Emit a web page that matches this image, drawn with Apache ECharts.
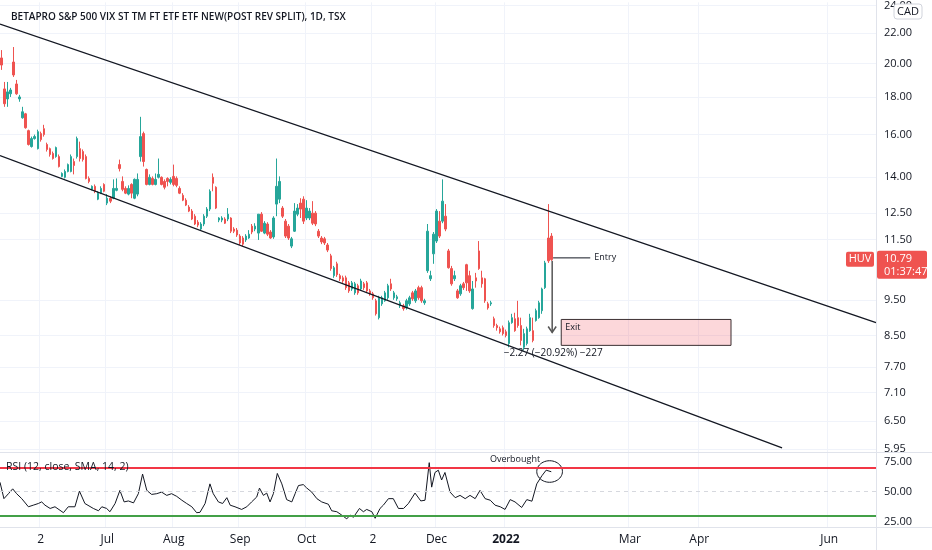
<!DOCTYPE html>
<html>
<head>
<meta charset="utf-8">
<title>HUV</title>
<script src="https://cdn.jsdelivr.net/npm/echarts@6.0.0/dist/echarts.min.js"></script>
<style>
  html, body { margin: 0; padding: 0; background: #fff; }
  #main { width: 932px; height: 550px; }
</style>
</head>
<body>
<div id="main"></div>
<script>
// 交易日从这一天开始，一共 dayCount 个（只算工作日）
const firstDay = '2021-05-13';
const dayCount = 290;

// 时间轴标签
const tickLabels = {
    '2021-06-01': '2', '2021-07-01': 'Jul', '2021-08-02': 'Aug', '2021-09-01': 'Sep',
    '2021-10-01': 'Oct', '2021-11-02': '2', '2021-12-01': 'Dec', '2022-01-03': '2022',
    '2022-03-01': 'Mar', '2022-04-01': 'Apr', '2022-06-01': 'Jun'
};

// 价格轴刻度
const priceTicks = [24, 22, 20, 18, 16, 14, 12.5, 11.5, 9.5, 8.5, 7.7, 7.1, 6.5, 5.95];
const rsiTicks = [25, 50, 75];
const rsiLevels = [70, 50, 30];

// K线 [open, close, low, high]
const candles = [
    [20.35, 19.90, 19.60, 20.86], [18.46, 17.62, 17.45, 18.87], [17.89, 18.29, 17.45, 18.87], [18.18, 18.40, 18.00, 18.52],
    [20.09, 19.29, 19.17, 21.06], [18.75, 18.18, 18.12, 18.99], [17.89, 18.00, 17.73, 18.12], [16.86, 17.18, 16.81, 17.45],
    [17.07, 16.34, 16.29, 17.12], [16.19, 15.50, 15.45, 16.24], [15.40, 15.79, 15.35, 15.89], [15.79, 15.89, 15.74, 15.99],
    [15.30, 16.14, 15.26, 16.24], [16.04, 15.74, 15.64, 16.14], [16.29, 15.99, 15.89, 16.49], [15.50, 15.26, 15.16, 15.59],
    [15.30, 15.02, 14.92, 15.35], [15.07, 14.83, 14.78, 15.16], [14.92, 15.35, 14.87, 15.40], [14.92, 14.46, 14.42, 15.02],
    [14.02, 14.15, 13.98, 14.20], [13.98, 14.24, 13.93, 14.33], [14.24, 14.55, 14.20, 14.60], [14.24, 14.92, 14.20, 15.02],
    [14.69, 14.51, 14.11, 14.83], [14.92, 15.79, 14.83, 15.89], [15.30, 14.83, 14.69, 15.64], [15.16, 14.78, 14.69, 15.26],
    [14.92, 13.93, 13.89, 15.02], [13.93, 13.80, 13.72, 14.02], [13.46, 13.59, 13.42, 13.63], [13.59, 13.38, 13.30, 13.67],
    [13.05, 13.30, 13.01, 13.38], [13.30, 13.50, 13.26, 13.59], [13.67, 13.38, 13.34, 13.72], [12.89, 13.09, 12.81, 13.26],
    [13.09, 12.97, 12.89, 13.17], [13.09, 13.50, 13.05, 13.89], [13.42, 13.50, 13.38, 13.93], [14.55, 14.37, 14.24, 14.78],
    [13.80, 13.46, 13.38, 14.02], [13.50, 13.30, 13.26, 13.59], [13.26, 13.50, 13.21, 13.63], [13.67, 13.30, 13.09, 13.72],
    [13.09, 13.89, 13.05, 13.93], [13.26, 13.89, 13.17, 14.15], [14.92, 15.89, 14.69, 16.91], [16.04, 14.69, 14.46, 16.14],
    [14.33, 13.67, 13.63, 14.37], [13.67, 13.98, 13.63, 14.11], [13.93, 13.67, 13.63, 14.02], [13.67, 13.89, 13.63, 14.15],
    [13.98, 14.11, 13.93, 14.83], [13.98, 13.67, 13.63, 14.02], [13.80, 13.55, 13.46, 13.89], [13.93, 13.80, 13.59, 13.98],
    [13.76, 13.89, 13.67, 13.98], [14.02, 13.67, 13.59, 14.55], [13.93, 13.63, 13.55, 14.02], [13.50, 13.30, 13.26, 13.59],
    [13.21, 13.01, 12.97, 13.30], [13.01, 12.81, 12.77, 13.09], [12.73, 12.57, 12.53, 12.81], [12.57, 12.26, 12.22, 12.65],
    [12.37, 12.07, 12.03, 12.45], [12.14, 12.03, 11.95, 12.22], [11.88, 12.07, 11.84, 12.14], [12.07, 12.37, 11.99, 12.45],
    [12.37, 12.65, 12.30, 12.73], [12.65, 13.38, 12.57, 13.46], [13.98, 13.72, 13.38, 14.15], [13.55, 12.69, 12.65, 13.59],
    [12.22, 12.30, 12.14, 12.33], [12.22, 12.30, 12.14, 12.37], [12.26, 12.10, 12.07, 12.33], [12.26, 12.45, 12.18, 12.69],
    [12.30, 11.80, 11.73, 12.33], [11.88, 11.80, 11.73, 11.95], [11.84, 11.66, 11.59, 11.92], [11.62, 11.37, 11.30, 11.69],
    [11.55, 11.33, 11.26, 11.62], [11.48, 11.62, 11.41, 11.69], [11.55, 11.69, 11.52, 11.84], [11.99, 11.77, 11.69, 12.07],
    [11.88, 11.99, 11.80, 12.10], [11.73, 12.45, 11.48, 12.45], [12.45, 11.80, 11.77, 12.53], [11.73, 12.10, 11.69, 12.18],
    [12.07, 11.69, 11.62, 12.14], [11.77, 11.55, 11.52, 11.84], [11.59, 12.30, 11.52, 12.37], [12.85, 13.59, 12.37, 14.83],
    [13.05, 13.80, 12.89, 14.02], [12.69, 12.37, 12.30, 12.77], [12.18, 11.62, 11.55, 12.26], [11.99, 11.55, 11.48, 12.07],
    [11.26, 11.52, 11.19, 11.59], [11.80, 12.57, 11.77, 12.89], [12.45, 12.69, 12.37, 12.85], [12.89, 12.65, 12.30, 13.09],
    [13.05, 12.18, 12.07, 13.17], [12.30, 12.69, 12.22, 13.01], [12.30, 12.57, 12.22, 12.69], [12.49, 12.10, 12.03, 12.97],
    [12.49, 12.07, 11.99, 12.57], [11.80, 11.62, 11.55, 11.88], [11.55, 11.41, 11.33, 11.62], [11.52, 11.37, 11.30, 11.59],
    [11.30, 11.12, 11.05, 11.37], [10.92, 10.49, 10.42, 10.99], [10.26, 10.52, 10.19, 10.58], [10.65, 10.29, 10.22, 10.72],
    [10.26, 10.16, 10.09, 10.32], [10.19, 10.09, 10.03, 10.26], [10.19, 9.88, 9.81, 10.26], [10.03, 9.78, 9.72, 10.09],
    [9.84, 10.03, 9.78, 10.09], [9.72, 10.00, 9.66, 10.06], [9.94, 9.72, 9.66, 10.00], [9.84, 10.09, 9.78, 10.16],
    [10.00, 9.88, 9.81, 10.06], [10.03, 9.78, 9.72, 10.09], [9.78, 9.69, 9.63, 9.84], [9.69, 9.57, 9.51, 9.75],
    [9.48, 9.10, 9.05, 9.54], [8.99, 9.57, 8.94, 9.63], [9.39, 9.57, 9.33, 9.63], [9.48, 9.72, 9.45, 9.78],
    [9.57, 9.94, 9.51, 10.00], [10.00, 9.84, 9.78, 10.16], [9.57, 9.72, 9.51, 9.78], [9.54, 9.60, 9.48, 9.66],
    [9.33, 9.42, 9.27, 9.48], [9.33, 9.25, 9.19, 9.39], [9.27, 9.48, 9.22, 9.54], [9.39, 9.57, 9.33, 9.63],
    [9.72, 9.54, 9.48, 9.78], [9.48, 9.78, 9.42, 9.84], [9.88, 9.57, 9.51, 9.94], [9.88, 9.48, 9.42, 9.94],
    [9.42, 9.48, 9.36, 9.54], [10.42, 11.80, 10.35, 12.07], [10.16, 10.26, 10.09, 10.42], [10.99, 11.69, 10.65, 11.77],
    [11.44, 12.57, 11.37, 12.65], [12.18, 11.62, 11.55, 12.57], [12.18, 12.97, 12.10, 13.89], [12.37, 11.88, 11.80, 12.85],
    [11.09, 10.52, 10.49, 11.16], [10.49, 10.00, 9.94, 10.58], [10.16, 10.26, 10.09, 10.42], [9.78, 9.57, 9.54, 9.84],
    [9.69, 9.94, 9.63, 10.00], [10.00, 9.88, 9.81, 10.06], [10.62, 10.03, 9.78, 10.65], [10.26, 9.78, 9.72, 10.42],
    [9.25, 9.84, 9.22, 10.09], [10.19, 10.09, 9.88, 10.35], [11.09, 10.49, 10.45, 11.44], [10.19, 10.00, 9.88, 10.42],
    [10.16, 9.48, 9.42, 10.19], [9.39, 9.27, 9.22, 9.45], [9.39, 9.42, 9.33, 9.48], [8.96, 8.77, 8.71, 9.02],
    [8.77, 8.71, 8.63, 8.82], [8.68, 8.60, 8.55, 8.74], [8.71, 8.55, 8.50, 8.77], [8.60, 8.50, 8.45, 8.66],
    [8.29, 8.85, 8.19, 8.91], [8.85, 8.99, 8.82, 9.10], [8.96, 8.63, 8.60, 9.13], [8.99, 8.77, 8.71, 9.48],
    [8.77, 8.37, 8.24, 8.99], [8.19, 8.55, 8.11, 8.68], [8.29, 8.68, 8.24, 8.74], [8.63, 8.99, 8.60, 9.10],
    [8.63, 8.37, 8.32, 8.99], [8.91, 9.19, 8.88, 9.25], [8.99, 9.42, 8.96, 9.48], [9.19, 9.84, 9.10, 9.88],
    [9.88, 10.68, 9.84, 10.75], [11.55, 10.75, 10.68, 12.85], [11.62, 10.79, 10.75, 11.73]
];

// RSI [bar position, value]
const rsi = [
    [-0.5, 57.8], [0.8, 44.3], [2.3, 48.4], [3.7, 52.4], [5.0, 48.4], [6.7, 44.3], [8.9, 37.6], [10.5, 38.9],
    [12.2, 40.3], [13.3, 41.6], [14.4, 38.9], [16.1, 36.2], [17.7, 37.6], [20.5, 32.7], [22.1, 37.6], [24.3, 37.6],
    [25.8, 50.5], [27.6, 40.3], [30.4, 36.2], [32.1, 34.3], [33.2, 37.6], [34.8, 36.2], [35.9, 33.5], [37.6, 40.3],
    [39.2, 51.1], [40.6, 41.6], [42.0, 42.4], [43.7, 40.8], [45.3, 48.4], [46.7, 64.6], [48.1, 51.1], [49.7, 47.8],
    [51.4, 48.4], [53.0, 49.7], [54.7, 47.0], [56.3, 48.4], [58.0, 46.2], [59.7, 43.0], [61.3, 40.3], [63.0, 37.6],
    [64.6, 32.7], [65.7, 33.0], [67.4, 40.3], [69.0, 56.5], [70.1, 48.4], [71.8, 41.6], [73.2, 40.3], [74.6, 45.1],
    [75.7, 38.9], [77.3, 37.6], [79.5, 35.4], [81.2, 37.6], [82.8, 41.6], [84.5, 45.7], [85.4, 53.0], [86.7, 47.0],
    [87.8, 48.9], [88.9, 41.6], [90.0, 48.4], [91.3, 65.1], [92.8, 56.5], [94.4, 43.5], [96.1, 41.6], [97.2, 48.4],
    [98.3, 55.1], [99.9, 55.9], [101.0, 53.2], [102.7, 49.7], [104.4, 44.3], [106.0, 41.6], [108.2, 39.7], [109.3, 34.3],
    [111.0, 33.5], [112.6, 30.8], [114.3, 27.6], [115.4, 30.8], [116.5, 28.9], [118.5, 36.2], [119.8, 33.5], [120.9, 35.4],
    [122.6, 33.5], [123.7, 28.1], [125.3, 36.2], [126.4, 38.9], [128.1, 44.3], [129.7, 44.3], [131.4, 36.2], [133.1, 36.2],
    [134.7, 40.3], [136.9, 48.9], [138.8, 42.4], [140.2, 43.0], [141.6, 74.0], [142.4, 53.8], [143.5, 65.9], [144.6, 67.8],
    [145.7, 59.7], [146.8, 65.9], [148.5, 49.7], [150.2, 45.1], [151.8, 47.0], [153.5, 44.3], [155.1, 47.0], [156.8, 44.3],
    [158.4, 51.1], [160.1, 44.3], [161.8, 43.0], [163.4, 38.9], [165.1, 37.6], [166.7, 35.4], [168.4, 43.5], [170.0, 41.6],
    [172.2, 37.0], [173.9, 43.5], [175.6, 42.2], [177.2, 56.5], [178.9, 63.2], [180.3, 67.8], [182.0, 66.5]
];

// 画线工具（通道、进出场）
const upperLine = [[-0.5, 22.63], [289.5, 8.85]];
const lowerLine = [[-0.5, 14.97], [258.4, 5.97]];
const entryLine = { from: 182.6, to: 194.9, price: 10.85 };
const measure = { at: 182.3, base: 10.85, top: 10.75, to: 8.58 };
const exitBox = { from: 185.3, to: 241.5, top: 8.94, bottom: 8.24 };
const overbought = { from: 177.2, to: 185.7, top: 75.6, bottom: 57.8, textAt: 170, textValue: 76.4 };

const ink = '#131722';
const upColor = '#26a69a';
const downColor = '#ef5350';
const gridColor = '#f0f3fa';
const font = '"Open Sans", "Noto Sans", sans-serif';

// 工作日列表
const days = [];
let d = new Date(firstDay + 'T00:00:00Z');
while (days.length < dayCount) {
    const wd = d.getUTCDay();
    if (wd !== 0 && wd !== 6) days.push(d.toISOString().slice(0, 10));
    d.setUTCDate(d.getUTCDate() + 1);
}

function minus(n, digits) {
    const s = Math.abs(n).toFixed(digits);
    return (n < 0 ? '\u2212' : '') + s;
}

const isTick = (i, v) => tickLabels[v] !== undefined;

const chart = echarts.init(document.getElementById('main'));

const option = {
    animation: false,
    backgroundColor: '#ffffff',
    textStyle: { fontFamily: font },
    title: {
        text: 'BETAPRO S&P 500 VIX ST TM FT ETF ETF NEW(POST REV SPLIT), 1D, TSX',
        left: 6,
        top: 7,
        textStyle: { color: ink, fontSize: 10, fontWeight: 600, fontFamily: font }
    },
    grid: [
        { left: 0, right: 56, top: 0, height: 452 },
        { left: 0, right: 56, top: 452, height: 75 }
    ],
    xAxis: [
        {
            type: 'category', gridIndex: 0, data: days, boundaryGap: true,
            axisLine: { show: false }, axisTick: { show: false }, axisLabel: { show: false },
            splitLine: { show: true, interval: isTick, lineStyle: { color: gridColor } }
        },
        {
            type: 'category', gridIndex: 1, data: days, boundaryGap: true,
            axisLine: { show: false }, axisTick: { show: false },
            axisLabel: {
                interval: isTick, margin: 7, color: ink, fontSize: 12, fontFamily: font,
                formatter: v => tickLabels[v] === '2022' ? '{b|2022}' : (tickLabels[v] || ''),
                rich: { b: { fontWeight: 'bold', fontSize: 12, color: ink, fontFamily: font } }
            },
            splitLine: { show: true, interval: isTick, lineStyle: { color: gridColor } }
        },
        { type: 'value', gridIndex: 0, min: -0.5, max: dayCount - 0.5, show: false },
        { type: 'value', gridIndex: 1, min: -0.5, max: dayCount - 0.5, show: false }
    ],
    yAxis: [
        {
            type: 'log', gridIndex: 0, position: 'right', min: 5.892, max: 24.24,
            axisLine: { show: false },
            axisTick: { show: false, customValues: priceTicks },
            axisLabel: {
                customValues: priceTicks, margin: 8, color: ink, fontSize: 11, fontFamily: font,
                formatter: v => Number(v).toFixed(2)
            },
            splitLine: { show: true, lineStyle: { color: gridColor } }
        },
        {
            type: 'value', gridIndex: 1, position: 'right', min: 20.9, max: 82.8,
            axisLine: { show: false },
            axisTick: { show: false, customValues: rsiTicks },
            axisLabel: {
                customValues: rsiTicks, margin: 8, color: ink, fontSize: 11, fontFamily: font,
                formatter: v => Number(v).toFixed(2)
            },
            splitLine: { show: false }
        }
    ],
    series: [
        {
            name: 'HUV', type: 'candlestick', xAxisIndex: 0, yAxisIndex: 0,
            data: candles, barWidth: 2,
            itemStyle: { color: upColor, color0: downColor, borderColor: upColor, borderColor0: downColor, borderWidth: 1 }
        },
        {
            type: 'line', xAxisIndex: 2, yAxisIndex: 0, data: upperLine, silent: true,
            showSymbol: false, lineStyle: { color: ink, width: 1.3 }
        },
        {
            type: 'line', xAxisIndex: 2, yAxisIndex: 0, data: lowerLine, silent: true,
            showSymbol: false, lineStyle: { color: ink, width: 1.3 }
        },
        {
            // 出场区域
            type: 'custom', xAxisIndex: 2, yAxisIndex: 0, silent: true,
            data: [[exitBox.from, exitBox.to, exitBox.top, exitBox.bottom]],
            encode: { x: [0, 1], y: [2, 3] },
            renderItem: (params, api) => {
                const a = api.coord([api.value(0), api.value(2)]);
                const b = api.coord([api.value(1), api.value(3)]);
                return {
                    type: 'group', children: [
                        { type: 'rect', shape: { x: a[0], y: a[1], width: b[0] - a[0], height: b[1] - a[1] },
                          style: { fill: 'rgba(242,54,69,0.2)', stroke: '#3b2f31', lineWidth: 1 } },
                        { type: 'text', x: a[0] + 4, y: a[1] + 3,
                          style: { text: 'Exit', fill: ink, font: '9px ' + font, align: 'left', verticalAlign: 'top' } }
                    ]
                };
            }
        },
        {
            // 进场线
            type: 'custom', xAxisIndex: 2, yAxisIndex: 0, silent: true,
            data: [[entryLine.from, entryLine.to, entryLine.price]],
            encode: { x: [0, 1], y: 2 },
            renderItem: (params, api) => {
                const a = api.coord([api.value(0), api.value(2)]);
                const b = api.coord([api.value(1), api.value(2)]);
                return {
                    type: 'group', children: [
                        { type: 'line', shape: { x1: a[0], y1: a[1], x2: b[0], y2: b[1] }, style: { stroke: ink, lineWidth: 1 } },
                        { type: 'text', x: b[0] + 4, y: b[1],
                          style: { text: 'Entry', fill: ink, font: '9px ' + font, align: 'left', verticalAlign: 'middle' } }
                    ]
                };
            }
        },
        {
            // 价格区间测量
            type: 'custom', xAxisIndex: 2, yAxisIndex: 0, silent: true,
            data: [[measure.at, measure.top, measure.to]],
            encode: { x: 0, y: [1, 2] },
            renderItem: (params, api) => {
                const a = api.coord([api.value(0), api.value(1)]);
                const b = api.coord([api.value(0), api.value(2)]);
                const diff = measure.to - measure.base;
                const label = minus(diff, 2) + ' (' + minus(diff / measure.base * 100, 2) + '%) ' + minus(diff * 100, 0);
                return {
                    type: 'group', children: [
                        { type: 'line', shape: { x1: a[0], y1: a[1], x2: b[0], y2: b[1] }, style: { stroke: '#555', lineWidth: 1.5 } },
                        { type: 'polyline', shape: { points: [[b[0] - 4, b[1] - 6], [b[0], b[1]], [b[0] + 4, b[1] - 6]] },
                          style: { stroke: '#555', lineWidth: 1.5, fill: null } },
                        { type: 'text', x: b[0] + 1, y: b[1] + 21,
                          style: { text: label, fill: ink, font: '10px ' + font, align: 'center', verticalAlign: 'middle' } }
                    ]
                };
            }
        },
        {
            name: 'RSI', type: 'line', xAxisIndex: 3, yAxisIndex: 1, data: rsi, silent: true,
            showSymbol: false, lineStyle: { color: ink, width: 1 },
            markLine: {
                silent: true, symbol: 'none', label: { show: false },
                data: [
                    { yAxis: rsiLevels[0], lineStyle: { color: '#f23645', width: 2, type: 'solid' } },
                    { yAxis: rsiLevels[1], lineStyle: { color: '#d6d8de', width: 1, type: [4, 4] } },
                    { yAxis: rsiLevels[2], lineStyle: { color: '#43a047', width: 2, type: 'solid' } }
                ]
            }
        },
        {
            // 超买圈
            type: 'custom', xAxisIndex: 3, yAxisIndex: 1, silent: true,
            data: [[overbought.from, overbought.to, overbought.top, overbought.bottom]],
            encode: { x: [0, 1], y: [2, 3] },
            renderItem: (params, api) => {
                const a = api.coord([api.value(0), api.value(2)]);
                const b = api.coord([api.value(1), api.value(3)]);
                const cx = (a[0] + b[0]) / 2, cy = (a[1] + b[1]) / 2;
                const rx = (b[0] - a[0]) / 2, ry = (b[1] - a[1]) / 2;
                const pts = [];
                for (let k = 0; k < 48; k++) {
                    const t = k / 48 * Math.PI * 2;
                    pts.push([cx + rx * Math.cos(t), cy + ry * Math.sin(t)]);
                }
                const t = api.coord([overbought.textAt, overbought.textValue]);
                return {
                    type: 'group', children: [
                        { type: 'polygon', shape: { points: pts }, style: { stroke: ink, lineWidth: 1, fill: null } },
                        { type: 'text', x: t[0], y: t[1],
                          style: { text: 'Overbought', fill: ink, font: '9px ' + font, align: 'center', verticalAlign: 'middle' } }
                    ]
                };
            }
        }
    ],
    graphic: [
        { type: 'line', shape: { x1: 0, y1: 452.5, x2: 932, y2: 452.5 }, style: { stroke: '#e0e3eb', lineWidth: 1 }, z: 50 },
        { type: 'line', shape: { x1: 0, y1: 527.5, x2: 932, y2: 527.5 }, style: { stroke: '#e0e3eb', lineWidth: 1 }, z: 50 },
        { type: 'line', shape: { x1: 876.5, y1: 0, x2: 876.5, y2: 550 }, style: { stroke: '#e0e3eb', lineWidth: 1 }, z: 50 },
        { type: 'text', left: 6, top: 462, style: { text: 'RSI (12, close, SMA, 14, 2)', fill: ink, font: '10.5px ' + font }, z: 60 },
        { type: 'rect', shape: { x: 894, y: 4, width: 28, height: 15, r: 3 }, style: { fill: '#fff', stroke: '#d1d4dc', lineWidth: 1 }, z: 60 },
        { type: 'text', x: 908, y: 11.5, style: { text: 'CAD', fill: ink, font: '11px ' + font, align: 'center', verticalAlign: 'middle' }, z: 61 }
    ]
};

chart.setOption(option);

// 最新价标签
const last = candles[candles.length - 1];
const tagY = chart.convertToPixel({ yAxisIndex: 0 }, last[1]);
chart.setOption({
    graphic: [
        { id: 'huv-bg', type: 'rect', shape: { x: 846, y: tagY - 8, width: 28, height: 15, r: 2 }, style: { fill: downColor }, z: 60 },
        { id: 'huv-tx', type: 'text', x: 860, y: tagY - 0.5, style: { text: 'HUV', fill: '#fff', font: '11px ' + font, align: 'center', verticalAlign: 'middle' }, z: 61 },
        { id: 'px-bg', type: 'rect', shape: { x: 877, y: tagY - 9, width: 50, height: 28, r: 2 }, style: { fill: downColor }, z: 60 },
        { id: 'px-tx', type: 'text', x: 884, y: tagY - 0.5, style: { text: last[1].toFixed(2), fill: '#fff', font: '11px ' + font, align: 'left', verticalAlign: 'middle' }, z: 61 },
        { id: 'px-tm', type: 'text', x: 884, y: tagY + 12, style: { text: '01:37:47', fill: '#fff', font: '11px ' + font, align: 'left', verticalAlign: 'middle' }, z: 61 }
    ]
});
</script>
</body>
</html>
